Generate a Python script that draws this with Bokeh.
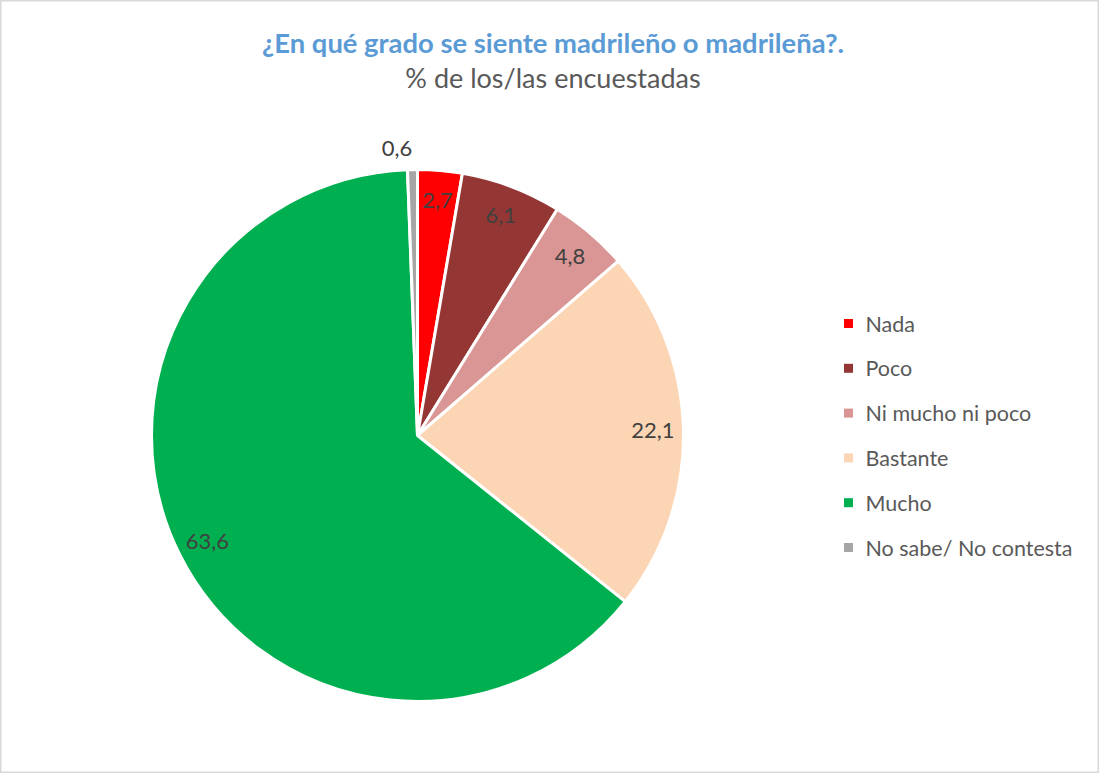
import math
from bokeh.plotting import figure
from bokeh.models import ColumnDataSource, Range1d
from bokeh.core.properties import value
from bokeh.embed import file_html
from bokeh.resources import INLINE

# ---- data ----
categories = ["Nada", "Poco", "Ni mucho ni poco", "Bastante", "Mucho", "No sabe/ No contesta"]
values = [2.7, 6.1, 4.8, 22.1, 63.6, 0.6]
colors = ["#ff0000", "#943634", "#da9694", "#fcd5b4", "#00b050", "#a6a6a6"]
title_text = "¿En qué grado se siente madrileño o madrileña?."
subtitle_text = "% de los/las encuestadas"

W, H = 1099, 773
FONT = "Lato"

p = figure(width=W, height=H, output_backend="svg", toolbar_location=None,
           x_range=Range1d(0, W), y_range=Range1d(0, H),
           min_border=0, min_border_left=0, min_border_right=0,
           min_border_top=0, min_border_bottom=0)
p.axis.visible = False
p.grid.visible = False
p.outline_line_color = "#d9d9d9"
p.outline_line_width = 2
p.background_fill_color = "white"
p.border_fill_color = "white"

cx, cy, R = 417, 338, 266
total = sum(values)
starts, ends, lx, ly, labels = [], [], [], [], []
cum = 0.0
for i, v in enumerate(values):
    a0 = math.pi / 2 - cum / total * 2 * math.pi
    cum += v
    a1 = math.pi / 2 - cum / total * 2 * math.pi
    starts.append(a0)
    ends.append(a1)
    mid = (a0 + a1) / 2
    if v < 1.5:
        r = R * 1.08
        lx.append(cx + r * math.cos(mid) - 15)
    else:
        r = R * 0.885
        lx.append(cx + r * math.cos(mid))
    ly.append(cy + r * math.sin(mid))
    labels.append(f"{v:.1f}".replace(".", ","))

src = ColumnDataSource(dict(start=starts, end=ends, color=colors, cat=categories))
p.wedge(x=cx, y=cy, radius=R, start_angle="start", end_angle="end",
        direction="clock", fill_color="color", line_color="white",
        line_width=3, source=src)

p.text(x=lx, y=ly, text=labels, text_font=value(FONT), text_font_size="22px",
       text_color="#404040", text_align="center", text_baseline="middle")

# title
p.text(x=[W / 2 + 3], y=[H - 42], text=[title_text], text_font=value(FONT),
       text_font_size="27.4px", text_font_style="bold", text_color="#5b9bd5",
       text_align="center", text_baseline="middle")
p.text(x=[W / 2 + 3], y=[H - 77], text=[subtitle_text], text_font=value(FONT),
       text_font_size="27px", text_color="#595959",
       text_align="center", text_baseline="middle")

# legend
leg_x = 848
leg_y = [H - (332 - 9) - i * 44.8 for i in range(len(categories))]
p.scatter(x=[leg_x] * len(categories), y=leg_y, marker="square", size=9,
          fill_color=colors, line_color=None)
p.text(x=[leg_x + 17] * len(categories), y=leg_y, text=categories,
       text_font=value(FONT), text_font_size="21.5px", text_color="#595959",
       text_align="left", text_baseline="middle")

open("out.html", "w").write(file_html(p, INLINE))
